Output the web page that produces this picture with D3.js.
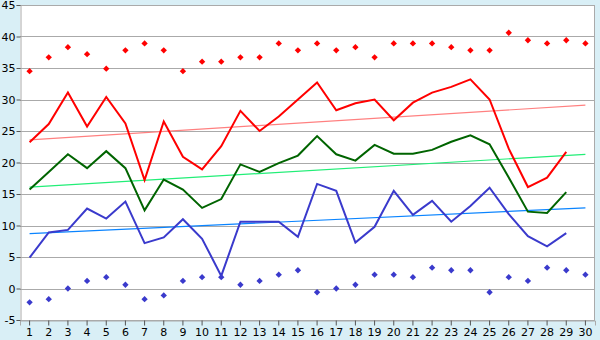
<!DOCTYPE html>
<html>
<head>
<meta charset="utf-8">
<script src="https://cdn.jsdelivr.net/npm/d3@7"></script>
<style>
  body { margin: 0; background: #d9eff6; }
  text { font-family: "DejaVu Sans", Verdana, sans-serif; font-size: 11px; fill: #000; }
</style>
</head>
<body>
<div id="chart"></div>
<script>
// days of the month
const days = d3.range(1, 31);

// daily max markers, average-high line, mean line, average-low line, min markers
const maxMarks = [34.5, 36.7, 38.3, 37.2, 34.9, 37.8, 38.9, 37.8, 34.5, 36.0,
                  36.0, 36.7, 36.7, 38.9, 37.8, 38.9, 37.8, 38.3, 36.7, 38.9,
                  38.9, 38.9, 38.3, 37.8, 37.8, 40.6, 39.4, 38.9, 39.4, 38.9];
const highs = [23.2, 26.1, 31.1, 25.7, 30.4, 26.2, 17.2, 26.5, 20.9, 18.9,
               22.6, 28.2, 25.0, 27.3, 30.0, 32.7, 28.3, 29.4, 30.0, 26.7,
               29.5, 31.1, 32.0, 33.2, 30.0, 22.2, 16.1, 17.6, 21.7];
const means = [15.7, 18.5, 21.3, 19.1, 21.8, 19.1, 12.4, 17.3, 15.7, 12.8,
               14.2, 19.7, 18.5, 19.9, 21.1, 24.2, 21.3, 20.3, 22.8, 21.4,
               21.4, 22.0, 23.3, 24.3, 22.9, 17.6, 12.2, 12.0, 15.3];
const lows = [4.9, 8.9, 9.3, 12.7, 11.1, 13.8, 7.2, 8.1, 11.0, 7.9,
              2.0, 10.6, 10.6, 10.6, 8.2, 16.6, 15.5, 7.3, 9.8, 15.5,
              11.7, 13.9, 10.6, 13.1, 16.0, 11.8, 8.3, 6.7, 8.8];
const minMarks = [-2.2, -1.7, 0.0, 1.2, 1.8, 0.6, -1.7, -1.1, 1.2, 1.8,
                  1.8, 0.6, 1.2, 2.2, 2.9, -0.6, 0.0, 0.6, 2.2, 2.2,
                  1.8, 3.3, 2.9, 2.9, -0.6, 1.8, 1.2, 3.3, 2.9, 2.2];

// trend line end values (day 1, day 30)
const highTrend = [23.6, 29.1];
const meanTrend = [16.1, 21.3];
const lowTrend = [8.7, 12.8];

const yTicks = d3.range(-5, 46, 5);

const width = 600, height = 340;
const margin = {top: 5, right: 5, bottom: 20, left: 20};

const svg = d3.select("#chart").append("svg")
    .attr("width", width)
    .attr("height", height);

const x = d3.scaleBand()
    .domain(days)
    .range([margin.left, width - margin.right]);

const y = d3.scaleLinear()
    .domain([-5, 45])
    .range([height - margin.bottom, margin.top]);

const cx = d => x(d) + x.bandwidth() / 2;

// plot area
svg.append("rect")
    .attr("x", margin.left)
    .attr("y", margin.top)
    .attr("width", width - margin.left - margin.right)
    .attr("height", height - margin.top - margin.bottom)
    .style("fill", "#fff");

// grid
svg.append("g")
  .selectAll("line")
  .data(yTicks)
  .enter().append("line")
    .attr("x1", margin.left)
    .attr("x2", width - margin.right)
    .attr("y1", d => Math.round(y(d)) + 0.5)
    .attr("y2", d => Math.round(y(d)) + 0.5)
    .style("stroke", "#aaa");

svg.append("line")
    .attr("x1", width - margin.right - 0.5)
    .attr("x2", width - margin.right - 0.5)
    .attr("y1", margin.top)
    .attr("y2", height - margin.bottom)
    .style("stroke", "#aaa");

// axes
const yAxis = svg.append("g")
    .attr("transform", `translate(${margin.left + 0.5},0)`)
    .call(d3.axisLeft(y).tickValues(yTicks).tickSize(4).tickPadding(1).tickFormat(d => String(d)));

const xAxis = svg.append("g")
    .attr("transform", `translate(0,${Math.round(y(-5)) + 0.5})`)
    .call(d3.axisBottom(x).tickSize(5).tickPadding(3));

[yAxis, xAxis].forEach(a => {
  a.select(".domain").style("stroke", "#aaa");
  a.selectAll(".tick line").style("stroke", "#555");
  a.selectAll("text").style("font-family", '"DejaVu Sans", Verdana, sans-serif').style("font-size", "11px").style("fill", "#000");
});

// trend lines
const trends = [
  {vals: highTrend, color: "#ff8080"},
  {vals: meanTrend, color: "#22ee77"},
  {vals: lowTrend, color: "#0a84ff"}
];
svg.append("g")
  .selectAll("line")
  .data(trends)
  .enter().append("line")
    .attr("x1", cx(1))
    .attr("x2", cx(30))
    .attr("y1", d => y(d.vals[0]))
    .attr("y2", d => y(d.vals[1]))
    .style("stroke", d => d.color)
    .style("stroke-width", 1.2);

// series lines
const line = d3.line()
    .x((d, i) => cx(days[i]))
    .y(d => y(d));

const series = [
  {vals: highs, color: "#ff0000"},
  {vals: means, color: "#006400"},
  {vals: lows, color: "#3a3acc"}
];
svg.append("g")
  .selectAll("path")
  .data(series)
  .enter().append("path")
    .attr("d", d => line(d.vals))
    .style("fill", "none")
    .style("stroke", d => d.color)
    .style("stroke-width", 2);

// markers: small squares turned 45 degrees
const marker = d3.symbol().type(d3.symbolSquare).size(20);

svg.append("g")
  .selectAll("path")
  .data(maxMarks)
  .enter().append("path")
    .attr("d", marker)
    .attr("transform", (d, i) => `translate(${cx(days[i])},${y(d)}) rotate(45)`)
    .style("fill", "#ff0000");

svg.append("g")
  .selectAll("path")
  .data(minMarks)
  .enter().append("path")
    .attr("d", marker)
    .attr("transform", (d, i) => `translate(${cx(days[i])},${y(d)}) rotate(45)`)
    .style("fill", "#3a3acc");
</script>
</body>
</html>
